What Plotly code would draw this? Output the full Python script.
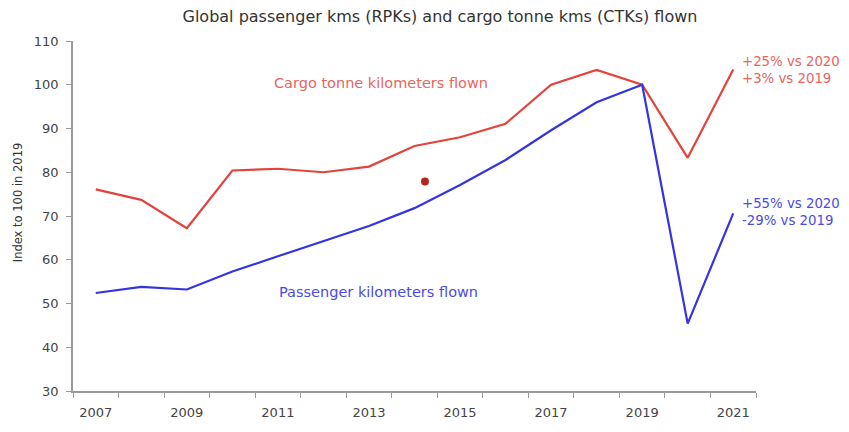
import plotly.graph_objects as go

years = list(range(2007, 2022))
cargo_ctk = [76.1, 73.7, 67.2, 80.4, 80.8, 80.0, 81.3, 86.0, 88.0, 91.1, 100.0, 103.4, 100.0, 83.3, 103.5]
passenger_rpk = [52.4, 53.8, 53.2, 57.3, 60.8, 64.2, 67.7, 71.8, 77.1, 82.8, 89.6, 96.0, 100.0, 45.4, 70.6]
x_tick_labels = ["2007", "2009", "2011", "2013", "2015", "2017", "2019", "2021"]
x_tick_years = [2007, 2009, 2011, 2013, 2015, 2017, 2019, 2021]
y_ticks = [30, 40, 50, 60, 70, 80, 90, 100, 110]
dot_x = [2014.23]
dot_y = [77.9]

RED = "#e2443c"
BLUE = "#3434e0"
RED_TXT = "#e8655e"
BLUE_TXT = "#4b4be4"
FONT = "DejaVu Sans, Verdana, sans-serif"

# The page has an 8px body margin; figure sized so the plot area lands at
# page x 73..756, y 41..397.
W, H = 841, 424
L, R, T, B = 65, 93, 33, 35

fig = go.Figure()
fig.add_trace(go.Scatter(x=years, y=cargo_ctk, mode="lines",
                         line=dict(color=RED, width=2.2), name="CTKs", hoverinfo="skip"))
fig.add_trace(go.Scatter(x=years, y=passenger_rpk, mode="lines",
                         line=dict(color=BLUE, width=2.2), name="RPKs", hoverinfo="skip"))
fig.add_trace(go.Scatter(x=dot_x, y=dot_y, mode="markers",
                         marker=dict(color="#b3261b", size=8), hoverinfo="skip"))

fig.update_layout(
    width=W, height=H,
    margin=dict(l=L, r=R, t=T, b=B),
    paper_bgcolor="white", plot_bgcolor="white",
    showlegend=False,
    font=dict(family=FONT, color="#444444", size=13),
    title=dict(text="Global passenger kms (RPKs) and cargo tonne kms (CTKs) flown",
               x=432 / W, xanchor="center", y=1 - 3 / H, yanchor="top",
               font=dict(size=16, color="#333333", family=FONT)),
    xaxis=dict(range=[2006.5, 2021.5], tickvals=x_tick_years, ticktext=x_tick_labels,
               ticks="", showgrid=False, zeroline=False,
               showline=True, linecolor="#9a9a9a", linewidth=1.5,
               ticklabelstandoff=9,
               tickfont=dict(size=13, color="#444444"),
               minor=dict(tickvals=[y + 0.5 for y in range(2006, 2022)], ticks="outside",
                          ticklen=5, tickcolor="#9a9a9a", tickwidth=1.2, showgrid=False)),
    yaxis=dict(range=[30, 110], tickvals=y_ticks, ticks="outside", ticklen=5,
               tickcolor="#9a9a9a", tickwidth=1.2,
               showgrid=False, zeroline=False,
               showline=True, linecolor="#9a9a9a", linewidth=1.5,
               ticklabelstandoff=5,
               tickfont=dict(size=13, color="#444444")),
)

fig.add_annotation(x=2013.26, y=100.3, text="Cargo tonne kilometers flown", showarrow=False,
                   font=dict(size=14.5, color=RED_TXT), xanchor="center", yanchor="middle")
fig.add_annotation(x=2013.2, y=52.7, text="Passenger kilometers flown", showarrow=False,
                   font=dict(size=14.5, color=BLUE_TXT), xanchor="center", yanchor="middle")


def px_to_paper_x(px):
    return (px - 8 - L) / (W - L - R)


def px_to_paper_y(py):
    return (H - B - (py - 8)) / (H - T - B)


fig.add_annotation(x=px_to_paper_x(18), y=px_to_paper_y(205), xref="paper", yref="paper",
                   text="Index to 100 in 2019", showarrow=False, textangle=-90,
                   xanchor="center", yanchor="middle",
                   font=dict(size=11.5, color="#333333"))

fig.add_annotation(x=px_to_paper_x(740), y=px_to_paper_y(71), xref="paper", yref="paper",
                   text="+25% vs 2020<br>+3% vs 2019", showarrow=False, align="left",
                   xanchor="left", yanchor="middle",
                   font=dict(size=13.3, color=RED_TXT))
fig.add_annotation(x=px_to_paper_x(740), y=px_to_paper_y(215), xref="paper", yref="paper",
                   text="+55% vs 2020<br>-29% vs 2019", showarrow=False, align="left",
                   xanchor="left", yanchor="middle",
                   font=dict(size=13.3, color=BLUE_TXT))

fig.write_html("out.html")
